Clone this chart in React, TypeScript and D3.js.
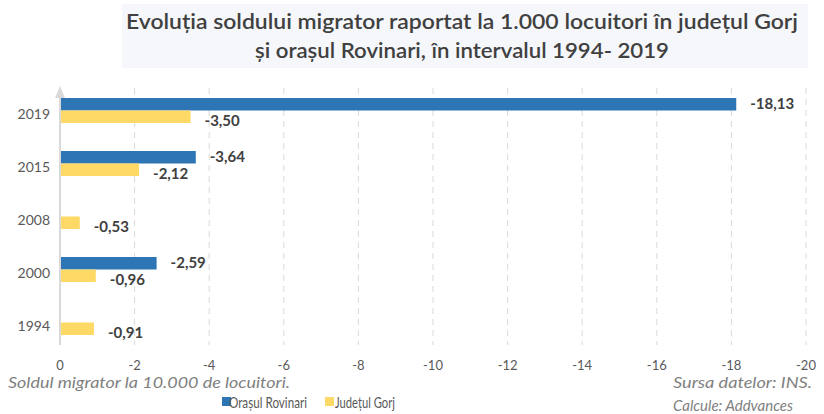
import React from "react";
import * as d3 from "d3";

const years = ["2019", "2015", "2008", "2000", "1994"];
const rovinari: (number | null)[] = [-18.13, -3.64, null, -2.59, null];
const gorj: number[] = [-3.5, -2.12, -0.53, -0.96, -0.91];
const ticks = [0, -2, -4, -6, -8, -10, -12, -14, -16, -18, -20];
const seriesNames = ["Orașul Rovinari", "Județul Gorj"];
const colors = ["#2e75b6", "#ffd966"];

const fmt = (v: number) => v.toFixed(2).replace(".", ",");
const FONT = "Lato, 'Open Sans', sans-serif";

export default function App() {
  const W = 824, H = 414;
  const x = d3.scaleLinear().domain([0, -20]).range([60, 806]);
  const y = d3.scaleBand().domain(years).range([84, 349]).paddingInner(0).paddingOuter(0);
  const barH = 12.5;
  const top = 88, bottom = 345;
  return (
    <svg width={W} height={H} style={{ position: "absolute", left: 0, top: 0, fontFamily: FONT }}>
      <rect x={0} y={0} width={W} height={H} fill="#fff" />
      <rect x={122} y={4} width={686} height={64} fill="#f5f7fb" />
      <text x={462} y={29} textAnchor="middle" fontSize={21} fontWeight={600} fill="#404040" textLength={672} lengthAdjust="spacingAndGlyphs">
        Evoluția soldului migrator raportat la 1.000 locuitori în județul Gorj
      </text>
      <text x={462} y={58} textAnchor="middle" fontSize={21} fontWeight={600} fill="#404040" textLength={414} lengthAdjust="spacingAndGlyphs">
        și orașul Rovinari, în intervalul 1994- 2019
      </text>
      {ticks.slice(1).map((t) => (
        <line key={t} x1={x(t)} x2={x(t)} y1={top} y2={bottom} stroke="#d9d9d9" strokeWidth={1} strokeDasharray="6,5" />
      ))}
      {years.map((yr, i) => {
        const c = (y(yr) ?? 0) + y.bandwidth() / 2;
        const r = rovinari[i];
        const g = gorj[i];
        return (
          <g key={yr}>
            {r !== null && (
              <>
                <rect x={x(0)} y={c - barH} width={x(r) - x(0)} height={barH} fill={colors[0]} />
                <text x={x(r) + 14} y={c - barH / 2 + 5} fontSize={15} fontWeight={700} fill="#404040">{fmt(r)}</text>
              </>
            )}
            <rect x={x(0)} y={c} width={x(g) - x(0)} height={barH} fill={colors[1]} />
            <text x={x(g) + 14} y={c + barH / 2 + 9} fontSize={15} fontWeight={700} fill="#404040">{fmt(g)}</text>
            <text x={50} y={c + 8} textAnchor="end" fontSize={14} fill="#595959">{yr}</text>
          </g>
        );
      })}
      <line x1={x(0)} x2={x(0)} y1={96} y2={bottom} stroke="#d9d9d9" strokeWidth={2} />
      <path d={`M${x(0) - 5},98 L${x(0)},86 L${x(0) + 5},98 Z`} fill="#d9d9d9" />
      {ticks.map((t) => (
        <text key={t} x={x(t)} y={370} textAnchor="middle" fontSize={13} fill="#595959">{t === 0 ? "0" : `-${Math.abs(t)}`}</text>
      ))}
      <text x={8} y={388} fontSize={15} fontStyle="italic" fill="#7f7f7f" textLength={282} lengthAdjust="spacingAndGlyphs">Soldul migrator la 10.000 de locuitori.</text>
      <text x={673} y={388} fontSize={15} fontStyle="italic" fill="#7f7f7f" textLength={139} lengthAdjust="spacingAndGlyphs">Sursa datelor: INS.</text>
      <text x={673} y={411} fontSize={15} fontStyle="italic" fill="#7f7f7f">Calcule: Addvances</text>
      <rect x={222} y={397} width={9} height={9} fill={colors[0]} />
      <text x={229} y={408} fontSize={16} fill="#595959" textLength={78} lengthAdjust="spacingAndGlyphs">{seriesNames[0]}</text>
      <rect x={325} y={397} width={9} height={9} fill={colors[1]} />
      <text x={335} y={408} fontSize={16} fill="#595959" textLength={60} lengthAdjust="spacingAndGlyphs">{seriesNames[1]}</text>
    </svg>
  );
}
